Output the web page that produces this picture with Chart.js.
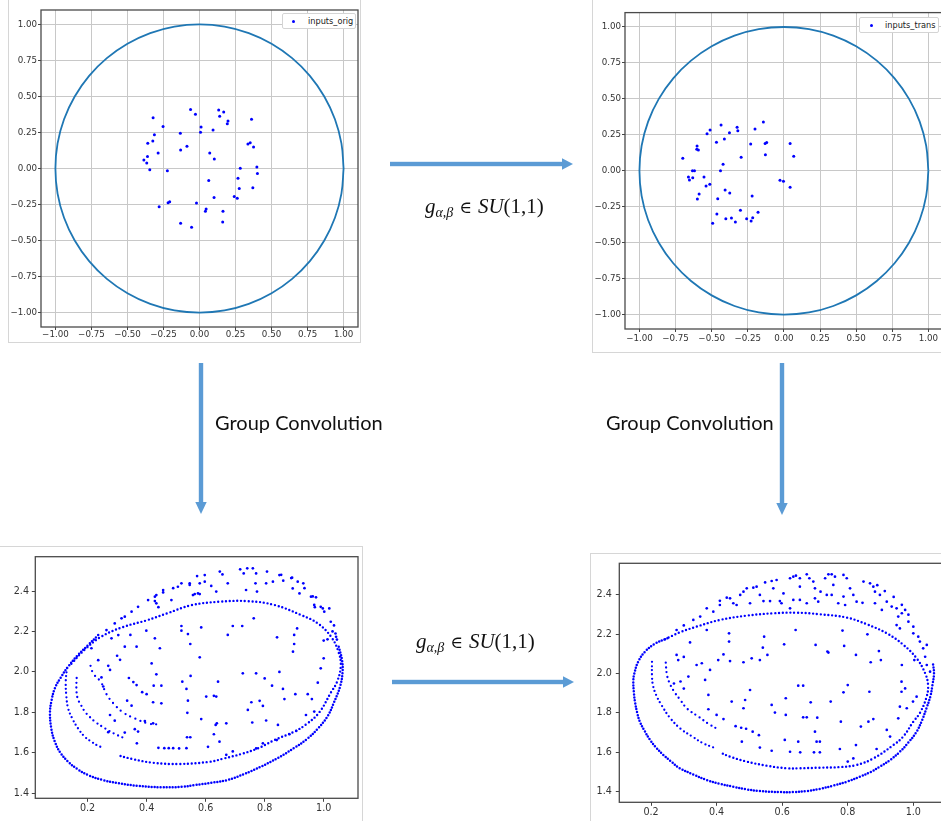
<!DOCTYPE html>
<html lang="en">
<head>
    <meta charset="UTF-8" />
    <title>SU(1,1) group convolution</title>
    <script src="https://cdn.jsdelivr.net/npm/chart.js"></script>
    <style>
        html, body {
            margin: 0;
            width: 941px;
            height: 821px;
            overflow: hidden;
            background: #fff;
        }
        canvas, .frame, .legend, .txt, svg {
            position: absolute;
        }
        .frame {
            border: 1px solid #d6d6d6;
            box-sizing: border-box;
        }
        .legend {
            background: #fff;
            border: 1px solid #d4d4d4;
            border-radius: 2px;
            box-sizing: border-box;
            font: 8.2px "DejaVu Sans", sans-serif;
            color: #222;
            z-index: 3;
        }
        .legend .dot {
            position: absolute;
            width: 3px;
            height: 3px;
            border-radius: 50%;
            background: #0000ff;
        }
        .legend span {
            position: absolute;
            white-space: nowrap;
        }
        .txt {
            white-space: nowrap;
            color: #111;
        }
        .conv {
            font: 20px Lato, sans-serif;
            line-height: 20px;
        }
        .math {
            font: 21px "Liberation Serif", serif;
            line-height: 21px;
        }
        .math i { font-style: italic; }
        .math sub { font-size: 14px; vertical-align: -4px; line-height: 0; }
        .math .op { margin: 0 6px; font-family: "DejaVu Serif", serif; font-size: 17px; }
    </style>
</head>
<body>
    <div class="frame" style="left:8px; top:-2px; width:353px; height:345px;"></div>
    <div class="frame" style="left:592px; top:-2px; width:360px; height:355px;"></div>
    <div class="frame" style="left:-2px; top:546px; width:365px; height:300px;"></div>
    <div class="frame" style="left:590px; top:553px; width:360px; height:300px;"></div>

    <canvas id="c1" width="362" height="345" style="left:0; top:0;"></canvas>
    <canvas id="c2" width="360" height="352" style="left:590px; top:0;"></canvas>
    <canvas id="c3" width="362" height="275" style="left:0; top:546px;"></canvas>
    <canvas id="c4" width="365" height="268" style="left:590px; top:553px;"></canvas>

    <div class="legend" style="left:282px; top:13px; width:74px; height:16px;">
        <div class="dot" style="left:9px; top:5.5px;"></div><span style="left:25px; top:2px;">inputs_orig</span>
    </div>
    <div class="legend" style="left:859px; top:17px; width:80px; height:16px;">
        <div class="dot" style="left:10px; top:5.5px;"></div><span style="left:25px; top:2px;">inputs_trans</span>
    </div>

    <svg width="941" height="821" style="left:0; top:0;">
        <g fill="#5b9bd5" stroke="none">
            <rect x="390" y="161.8" width="173" height="4.4" />
            <polygon points="573,164 562,158.2 562,169.8" />
            <rect x="392" y="679.8" width="172" height="4.4" />
            <polygon points="574,682 563,676.2 563,687.8" />
            <rect x="198.8" y="363" width="4.4" height="141" />
            <polygon points="201,514 195.3,502 206.7,502" />
            <rect x="779.8" y="363" width="4.4" height="142" />
            <polygon points="782,515 776.3,503 787.7,503" />
        </g>
    </svg>

    <div class="txt conv" style="left:215px; top:412px;">Group Convolution</div>
    <div class="txt conv" style="left:606px; top:412px;">Group Convolution</div>
    <div class="txt math" style="left:425px; top:196px;"><i>g</i><sub><i>α,β</i></sub><span class="op">∈</span><i>SU</i>(1,1)</div>
    <div class="txt math" style="left:416px; top:631px;"><i>g</i><sub><i>α,β</i></sub><span class="op">∈</span><i>SU</i>(1,1)</div>

    <script>
        // unit circle (boundary of the Poincare disk)
        const circX = [1, 0.985, 0.940, 0.866, 0.766, 0.643, 0.5, 0.342, 0.174, 0, -0.174, -0.342, -0.5, -0.643, -0.766, -0.866, -0.940, -0.985, -1,
                       -0.985, -0.940, -0.866, -0.766, -0.643, -0.5, -0.342, -0.174, 0, 0.174, 0.342, 0.5, 0.643, 0.766, 0.866, 0.940, 0.985, 1];
        const circY = [0, 0.174, 0.342, 0.5, 0.643, 0.766, 0.866, 0.940, 0.985, 1, 0.985, 0.940, 0.866, 0.766, 0.643, 0.5, 0.342, 0.174, 0,
                       -0.174, -0.342, -0.5, -0.643, -0.766, -0.866, -0.940, -0.985, -1, -0.985, -0.940, -0.866, -0.766, -0.643, -0.5, -0.342, -0.174, 0];

        const diskTicks = [-1, -0.75, -0.5, -0.25, 0, 0.25, 0.5, 0.75, 1];
        const convXTicks = [0.2, 0.4, 0.6, 0.8, 1.0];
        const convYTicks = [1.4, 1.6, 1.8, 2.0, 2.2, 2.4];

        // inputs_orig
        const origPts = [
            [-0.062, 0.41], [-0.028, 0.376], [0.133, 0.406], [0.168, 0.392], [0.14, 0.362], [0.198, 0.33], [0.193, 0.311],
            [0.361, 0.341], [-0.322, 0.353], [-0.253, 0.292], [0.011, 0.288], [0.007, 0.251], [0.094, 0.267], [-0.133, 0.244],
            [-0.313, 0.235], [-0.324, 0.191], [-0.359, 0.175], [-0.087, 0.154], [-0.131, 0.128], [0.336, 0.17], [0.352, 0.179],
            [0.375, 0.149], [0.071, 0.107], [0.103, 0.066], [-0.287, 0.107], [-0.361, 0.084], [-0.386, 0.059], [-0.366, 0.038],
            [-0.345, -0.008], [-0.223, -0.015], [0.283, 0.001], [0.398, 0.01], [0.402, -0.034], [0.267, -0.068], [0.276, -0.138],
            [0.37, -0.133], [0.064, -0.084], [0.241, -0.195], [0.262, -0.207], [0.101, -0.202], [-0.28, -0.265], [-0.218, -0.237],
            [-0.207, -0.23], [-0.021, -0.239], [0.046, -0.281], [0.041, -0.297], [0.163, -0.297], [0.161, -0.371], [-0.131, -0.38],
            [-0.055, -0.408]
        ];

        // inputs_trans
        const transPts = [
            [-0.142, 0.34], [-0.435, 0.319], [-0.324, 0.302], [-0.319, 0.279], [-0.2, 0.291], [-0.511, 0.284], [-0.532, 0.258],
            [-0.377, 0.265], [-0.412, 0.221], [-0.467, 0.198], [-0.23, 0.187], [-0.13, 0.189], [-0.119, 0.196], [0.043, 0.189],
            [-0.601, 0.173], [-0.603, 0.149], [-0.592, 0.145], [-0.128, 0.112], [0.068, 0.101], [-0.7, 0.087], [-0.296, 0.094],
            [-0.421, 0.045], [-0.439, 0.001], [-0.633, 0.001], [-0.619, 0.001], [-0.661, -0.043], [-0.631, -0.048], [-0.654, -0.064],
            [-0.553, -0.043], [-0.513, -0.094], [-0.539, -0.105], [-0.027, -0.066], [-0.003, -0.073], [0.043, -0.115], [-0.407, -0.133],
            [-0.375, -0.154], [-0.587, -0.161], [-0.599, -0.196], [-0.458, -0.194], [-0.22, -0.175], [-0.301, -0.275], [-0.179, -0.289],
            [-0.464, -0.3], [-0.402, -0.333], [-0.363, -0.328], [-0.336, -0.356], [-0.258, -0.333], [-0.216, -0.326], [-0.227, -0.349],
            [-0.493, -0.365]
        ];

        // group convolution output, original input (dense rings, arcs, loose points)
        const blOuter = [
            [0.236, 2.182], [0.202, 2.133], [0.165, 2.08], [0.134, 2.026], [0.108, 1.97], [0.089, 1.919], [0.078, 1.86], [0.0725, 1.80],
            [0.077, 1.72], [0.089, 1.655], [0.108, 1.60], [0.134, 1.556], [0.165, 1.52], [0.202, 1.49], [0.25, 1.466], [0.304, 1.45],
            [0.37, 1.437], [0.45, 1.43], [0.52, 1.432], [0.563, 1.441], [0.62, 1.452], [0.675, 1.466], [0.73, 1.495], [0.788, 1.532],
            [0.845, 1.575], [0.90, 1.624], [0.945, 1.67], [0.98, 1.72], [1.013, 1.78], [1.036, 1.853], [1.056, 1.93], [1.064, 2.0],
            [1.062, 2.06], [1.05, 2.13]
        ];
        const blRing = [
            [0.145, 2.04], [0.19, 2.11], [0.247, 2.175], [0.32, 2.222], [0.40, 2.255], [0.47, 2.29], [0.552, 2.33], [0.647, 2.347],
            [0.743, 2.35], [0.833, 2.331], [0.924, 2.281], [0.98, 2.24], [1.025, 2.174], [1.05, 2.1], [1.058, 2.03], [1.045, 1.95],
            [1.025, 1.9], [0.985, 1.80], [0.94, 1.74], [0.90, 1.705], [0.833, 1.663], [0.777, 1.622], [0.72, 1.594], [0.664, 1.573],
            [0.614, 1.556], [0.512, 1.545], [0.422, 1.551], [0.35, 1.57], [0.30, 1.589]
        ];
        const blArc2 = [[0.13, 2.02], [0.126, 1.952], [0.128, 1.88], [0.134, 1.82], [0.148, 1.77], [0.168, 1.72], [0.19, 1.68], [0.213, 1.655], [0.235, 1.635], [0.253, 1.625]];
        const blArc3 = [[0.163, 1.97], [0.162, 1.92], [0.166, 1.87], [0.178, 1.835], [0.191, 1.803], [0.207, 1.778], [0.225, 1.754], [0.26, 1.72], [0.29, 1.695], [0.32, 1.675]];
        const blArc4 = [[0.21, 2.03], [0.22, 1.99], [0.245, 1.95], [0.264, 1.89], [0.287, 1.845], [0.32, 1.80], [0.36, 1.77], [0.405, 1.745], [0.44, 1.74]];
        const blDots = [
            [0.264, 2.207], [0.292, 2.24], [0.315, 2.265], [0.326, 2.273], [0.349, 2.298], [0.371, 2.322], [0.405, 2.355], [0.428, 2.372],
            [0.456, 2.405], [0.281, 2.166], [0.304, 2.182], [0.213, 2.117], [0.433, 2.339], [0.44, 2.32], [0.506, 2.421], [0.49, 2.414],
            [0.546, 2.43], [0.484, 2.355], [0.428, 2.35], [0.456, 2.393], [0.433, 2.38], [0.518, 2.438], [0.546, 2.438], [0.557, 2.38],
            [0.574, 2.388], [0.58, 2.438], [0.571, 2.474], [0.597, 2.479], [0.597, 2.446], [0.619, 2.425], [0.636, 2.397], [0.648, 2.496],
            [0.657, 2.482], [0.675, 2.438], [0.717, 2.507], [0.741, 2.512], [0.76, 2.512], [0.729, 2.487], [0.771, 2.487], [0.737, 2.405],
            [0.769, 2.438], [0.774, 2.397], [0.808, 2.496], [0.805, 2.438], [0.828, 2.446], [0.85, 2.479], [0.863, 2.451], [0.893, 2.466],
            [0.895, 2.413], [0.912, 2.446], [0.931, 2.438], [0.918, 2.388], [0.957, 2.372], [0.974, 2.369], [0.968, 2.331], [0.99, 2.322],
            [1.002, 2.298], [1.019, 2.314], [1.024, 2.248], [1.042, 2.174], [0.563, 2.385], [0.58, 2.385], [0.856, 2.48], [0.89, 2.464],
            [0.935, 2.414], [0.963, 2.373], [0.97, 2.32], [0.997, 2.314], [1.03, 2.2], [1.035, 2.23], [1.045, 2.16], [1.04, 2.19],
            [0.428, 2.166], [0.518, 2.227], [0.518, 2.204], [0.54, 2.187], [0.548, 2.138], [0.585, 2.22], [0.445, 2.117], [0.399, 2.204],
            [0.345, 2.183], [0.326, 2.125], [0.366, 2.125], [0.417, 2.042], [0.433, 1.988], [0.424, 1.932], [0.45, 1.932], [0.422, 1.85],
            [0.45, 1.845], [0.521, 1.952], [0.535, 1.916], [0.54, 1.858], [0.538, 1.798], [0.549, 1.98], [0.537, 1.677], [0.548, 1.677],
            [0.58, 2.072], [0.602, 1.878], [0.628, 1.882], [0.642, 1.952], [0.636, 1.878], [0.585, 1.767], [0.634, 1.738], [0.638, 1.746],
            [0.628, 1.692], [0.608, 1.63], [0.647, 1.655], [0.67, 1.746], [0.675, 2.183], [0.692, 2.227], [0.724, 2.227], [0.763, 2.265],
            [0.726, 1.993], [0.771, 1.993], [0.743, 1.812], [0.755, 1.85], [0.758, 1.75], [0.783, 1.857], [0.794, 1.832], [0.805, 1.76],
            [0.8, 1.968], [0.825, 1.932], [0.85, 2.0], [0.862, 1.916], [0.867, 1.866], [0.842, 2.171], [0.9, 2.183], [0.896, 2.1],
            [0.9, 2.138], [0.91, 2.215], [0.904, 1.89], [0.946, 1.89], [0.96, 1.866], [0.98, 1.947], [0.99, 2.018], [1.0, 2.067],
            [1.0, 2.155], [1.013, 2.161], [0.94, 1.787], [0.968, 1.804], [0.907, 1.708], [0.884, 1.692], [0.845, 1.738], [0.841, 1.663],
            [0.794, 1.647], [0.771, 1.622], [0.692, 1.607], [0.67, 1.59], [0.27, 2.03], [0.276, 2.01], [0.247, 1.973], [0.253, 1.928],
            [0.236, 2.058], [0.334, 1.858], [0.349, 1.833], [0.276, 1.787], [0.292, 1.759], [0.27, 1.702], [0.326, 1.70], [0.36, 1.717],
            [0.371, 1.705], [0.367, 1.647], [0.394, 1.757], [0.422, 1.746], [0.30, 2.08], [0.31, 2.06], [0.34, 1.97], [0.355, 1.95],
            [0.366, 1.935], [0.385, 1.90], [0.40, 1.89], [0.44, 1.625], [0.46, 1.623], [0.475, 1.623], [0.49, 1.623], [0.51, 1.622],
            [0.535, 1.623]
        ];

        // group convolution output, transformed input
        const brOuter = [
            [0.25, 2.18], [0.21, 2.15], [0.182, 2.112], [0.161, 2.061], [0.149, 2.0], [0.146, 1.96], [0.148, 1.90], [0.151, 1.858],
            [0.158, 1.80], [0.166, 1.756], [0.18, 1.71], [0.197, 1.663], [0.215, 1.625], [0.238, 1.586], [0.26, 1.555], [0.288, 1.519],
            [0.33, 1.487], [0.37, 1.459], [0.41, 1.44], [0.451, 1.425], [0.49, 1.412], [0.532, 1.403], [0.593, 1.398], [0.634, 1.398],
            [0.675, 1.403], [0.715, 1.414], [0.756, 1.431], [0.8, 1.452], [0.837, 1.476], [0.87, 1.5], [0.898, 1.527], [0.93, 1.562],
            [0.959, 1.603], [0.985, 1.65], [1.01, 1.705], [1.027, 1.765], [1.04, 1.824], [1.052, 1.885], [1.058, 1.94], [1.063, 2.0],
            [1.06, 2.05]
        ];
        const brRing = [
            [0.243, 2.175], [0.288, 2.21], [0.339, 2.239], [0.41, 2.273], [0.492, 2.295], [0.573, 2.307], [0.644, 2.31], [0.715, 2.302],
            [0.797, 2.285], [0.858, 2.251], [0.919, 2.205], [0.97, 2.146], [1.01, 2.078], [1.036, 2.002], [1.045, 1.94], [1.04, 1.88],
            [1.02, 1.80], [1.0, 1.756], [0.969, 1.68], [0.939, 1.637], [0.878, 1.569], [0.827, 1.536], [0.775, 1.525], [0.715, 1.522],
            [0.654, 1.519], [0.614, 1.519], [0.553, 1.532], [0.492, 1.553], [0.441, 1.578], [0.41, 1.60]
        ];
        const brArc2 = [[0.203, 2.06], [0.203, 1.99], [0.206, 1.94], [0.216, 1.89], [0.232, 1.84], [0.258, 1.775], [0.29, 1.72], [0.326, 1.68], [0.36, 1.645], [0.39, 1.625]];
        const brArc3 = [[0.245, 2.056], [0.248, 2.0], [0.255, 1.958], [0.27, 1.91], [0.29, 1.865], [0.31, 1.822], [0.346, 1.78], [0.375, 1.745], [0.407, 1.715]];
        const brDots = [
            [0.37, 2.332], [0.41, 2.37], [0.431, 2.386], [0.451, 2.358], [0.461, 2.349], [0.472, 2.4], [0.502, 2.358], [0.278, 2.222],
            [0.329, 2.273], [0.41, 2.349], [0.441, 2.383], [0.482, 2.417], [0.512, 2.437], [0.30, 2.245], [0.35, 2.29], [0.39, 2.315],
            [0.492, 2.434], [0.522, 2.442], [0.548, 2.464], [0.568, 2.471], [0.583, 2.476], [0.624, 2.485], [0.634, 2.493], [0.642, 2.498],
            [0.654, 2.485], [0.675, 2.505], [0.683, 2.485], [0.695, 2.468], [0.70, 2.434], [0.654, 2.442], [0.604, 2.408], [0.634, 2.375],
            [0.593, 2.369], [0.563, 2.369], [0.543, 2.369], [0.573, 2.434], [0.532, 2.40], [0.731, 2.485], [0.741, 2.505], [0.751, 2.505],
            [0.761, 2.493], [0.787, 2.502], [0.797, 2.485], [0.717, 2.417], [0.736, 2.40], [0.751, 2.40], [0.756, 2.451], [0.771, 2.358],
            [0.787, 2.392], [0.792, 2.349], [0.70, 2.383], [0.71, 2.366], [0.675, 2.358], [0.654, 2.375], [0.624, 2.332], [0.598, 2.358],
            [0.848, 2.468], [0.868, 2.459], [0.878, 2.442], [0.883, 2.417], [0.898, 2.40], [0.883, 2.358], [0.904, 2.324], [0.919, 2.366],
            [0.934, 2.341], [0.949, 2.332], [0.954, 2.29], [0.965, 2.307], [0.975, 2.324], [0.949, 2.247], [0.959, 2.23], [0.985, 2.264],
            [1.0, 2.239], [1.0, 2.205], [1.015, 2.188], [1.02, 2.163], [1.03, 2.129], [1.041, 2.146], [1.036, 2.086], [1.041, 2.044],
            [1.051, 2.01], [0.827, 2.366], [0.817, 2.40], [0.807, 2.434], [0.845, 2.36], [0.89, 2.45], [0.913, 2.42], [0.94, 2.39],
            [0.965, 2.35], [0.985, 2.30], [0.319, 2.159], [0.37, 2.222], [0.438, 2.205], [0.438, 2.163], [0.545, 2.188], [0.541, 2.132],
            [0.555, 2.095], [0.606, 2.149], [0.641, 2.222], [0.702, 2.146], [0.738, 2.112], [0.784, 2.219], [0.789, 2.141], [0.825, 2.095],
            [0.86, 2.2], [0.895, 2.115], [0.901, 2.069], [0.87, 2.058], [0.965, 2.044], [1.003, 2.069], [0.278, 2.095], [0.283, 2.069],
            [0.339, 2.044], [0.355, 2.053], [0.365, 1.968], [0.38, 2.019], [0.405, 2.069], [0.421, 2.098], [0.441, 2.064], [0.482, 2.058],
            [0.507, 2.078], [0.532, 2.069], [0.314, 1.985], [0.375, 1.892], [0.375, 1.819], [0.40, 1.79], [0.421, 1.769], [0.446, 1.858],
            [0.458, 1.733], [0.475, 1.725], [0.49, 1.72], [0.51, 1.705], [0.529, 1.687], [0.482, 1.824], [0.487, 1.866], [0.502, 1.917],
            [0.568, 1.841], [0.578, 1.802], [0.611, 1.875], [0.611, 1.79], [0.649, 1.939], [0.664, 1.939], [0.664, 1.778], [0.675, 1.778],
            [0.687, 1.854], [0.707, 1.776], [0.70, 1.705], [0.705, 1.654], [0.715, 1.654], [0.608, 1.663], [0.649, 1.654], [0.624, 1.603],
            [0.655, 1.60], [0.697, 1.60], [0.715, 1.60], [0.568, 1.608], [0.532, 1.624], [0.477, 1.654], [0.741, 2.107], [0.748, 1.858],
            [0.779, 1.756], [0.787, 1.905], [0.80, 1.942], [0.776, 1.617], [0.80, 1.553], [0.817, 1.569], [0.825, 1.637], [0.84, 1.731],
            [0.863, 1.756], [0.866, 1.908], [0.878, 1.769], [0.888, 1.617], [0.919, 1.714], [0.929, 1.68], [0.954, 1.773], [0.959, 1.832],
            [0.964, 1.908], [0.964, 1.959], [0.975, 1.925], [0.98, 1.824], [0.999, 1.858], [1.01, 1.883], [0.30, 2.085], [0.30, 1.924],
            [0.27, 1.95], [0.29, 1.96]
        ];

        const BLUE = "#0000ff";
        const toPts = arr => arr.map(p => ({ x: p[0], y: p[1] }));
        const fmt = digits => v => (v < 0 ? "\u2212" : "") + Math.abs(v).toFixed(digits);

        // matplotlib style frame on all four sides
        const spines = {
            id: "spines",
            afterDraw(chart) {
                const a = chart.chartArea, ctx = chart.ctx;
                ctx.save();
                ctx.strokeStyle = "#4a4a4a";
                ctx.lineWidth = 1.3;
                ctx.strokeRect(a.left, a.top, a.right - a.left, a.bottom - a.top);
                ctx.restore();
            }
        };

        function dots(arr, r) {
            return { data: toPts(arr), showLine: false, pointRadius: r, pointBackgroundColor: BLUE, pointBorderWidth: 0 };
        }

        function track(arr, width, gap) {
            return {
                data: toPts(arr), showLine: true, pointRadius: 0, borderColor: BLUE, borderWidth: width,
                borderDash: [0, gap], borderCapStyle: "round", tension: 0.4
            };
        }

        function axis(o, which) {
            const isX = which === "x";
            return {
                type: "linear",
                min: isX ? o.xMin : o.yMin,
                max: isX ? o.xMax : o.yMax,
                afterBuildTicks: s => { s.ticks = (isX ? o.xTicks : o.yTicks).map(v => ({ value: v })); },
                afterFit: s => { if (isX) s.height = o.xH; else s.width = o.yW; },
                grid: { drawOnChartArea: o.grid, color: "#c8c8c8", lineWidth: 1, tickLength: o.tl, tickColor: "#444", tickWidth: 1 },
                border: { display: false },
                ticks: {
                    padding: isX ? o.xPad : o.yPad,
                    color: "#333",
                    font: { family: "DejaVu Sans", size: o.fs },
                    maxRotation: 0,
                    autoSkip: false,
                    callback: fmt(o.dig)
                }
            };
        }

        function makeChart(id, o) {
            return new Chart(document.getElementById(id), {
                type: "scatter",
                data: { datasets: o.datasets },
                options: {
                    responsive: false,
                    animation: false,
                    events: [],
                    layout: { padding: { top: o.padTop, right: o.padRight, left: 0, bottom: 0 } },
                    plugins: { legend: { display: false }, tooltip: { enabled: false } },
                    scales: { x: axis(o, "x"), y: axis(o, "y") }
                },
                plugins: [spines]
            });
        }

        const circle = {
            data: circX.map((x, i) => ({ x: x, y: circY[i] })),
            showLine: true, pointRadius: 0, borderColor: "#1f77b4", borderWidth: 1.8, tension: 0.4
        };

        makeChart("c1", {
            datasets: [dots(origPts, 1.5), circle],
            xMin: -1.1, xMax: 1.1, yMin: -1.1, yMax: 1.1, xTicks: diskTicks, yTicks: diskTicks,
            padTop: 10, padRight: 3, xH: 18, yW: 41, grid: true, tl: 3, xPad: 0, yPad: 1, fs: 8.7, dig: 2
        });

        makeChart("c2", {
            datasets: [dots(transPts, 1.5), circle],
            xMin: -1.1, xMax: 1.1, yMin: -1.1, yMax: 1.1, xTicks: diskTicks, yTicks: diskTicks,
            padTop: 12.6, padRight: 7.2, xH: 23, yW: 35, grid: true, tl: 3, xPad: 2, yPad: 1, fs: 8.7, dig: 2
        });

        makeChart("c3", {
            datasets: [track(blOuter, 2.5, 3.0), track(blRing, 2.4, 3.8), track(blArc2, 2.3, 4.2), track(blArc3, 2.3, 4.8), track(blArc4, 2.3, 5.5), dots(blDots, 1.35)],
            xMin: 0.0228, xMax: 1.1163, yMin: 1.3753, yMax: 2.5696, xTicks: convXTicks, yTicks: convYTicks,
            padTop: 10.7, padRight: 3.3, xH: 22.7, yW: 35.3, grid: false, tl: 3.5, xPad: 0.5, yPad: 2.8, fs: 9.6, dig: 1
        });

        makeChart("c4", {
            datasets: [track(brOuter, 2.5, 3.0), track(brRing, 2.4, 3.8), track(brArc2, 2.3, 4.2), track(brArc3, 2.3, 4.8), dots(brDots, 1.35)],
            xMin: 0.1033, xMax: 1.11, yMin: 1.346, yMax: 2.561, xTicks: convXTicks, yTicks: convYTicks,
            padTop: 10.3, padRight: 5.6, xH: 18.7, yW: 29.3, grid: false, tl: 3.5, xPad: 0.5, yPad: 4, fs: 9.6, dig: 1
        });
    </script>
</body>
</html>
